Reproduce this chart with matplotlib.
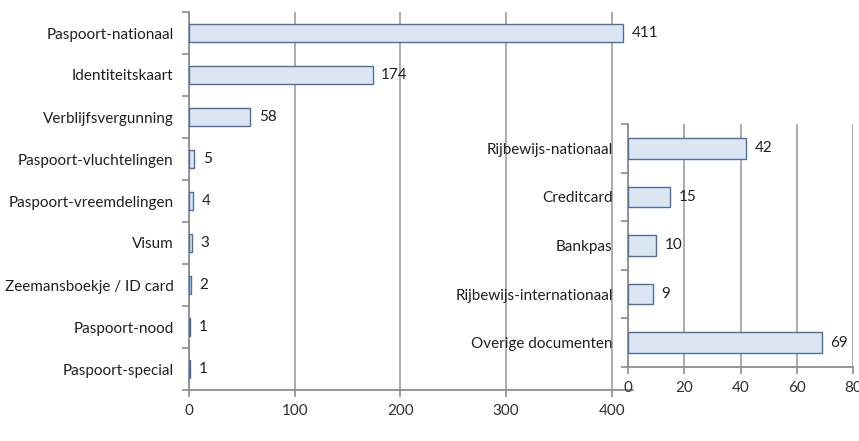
import matplotlib
matplotlib.use("Agg")
import matplotlib.pyplot as plt

main_cats = ["Paspoort-nationaal", "Identiteitskaart", "Verblijfsvergunning",
             "Paspoort-vluchtelingen", "Paspoort-vreemdelingen", "Visum",
             "Zeemansboekje / ID card", "Paspoort-nood", "Paspoort-special"]
main_vals = [411, 174, 58, 5, 4, 3, 2, 1, 1]
main_ticks = [0, 100, 200, 300, 400]

inset_cats = ["Rijbewijs-nationaal", "Creditcard", "Bankpas",
              "Rijbewijs-internationaal", "Overige documenten"]
inset_vals = [42, 15, 10, 9, 69]
inset_ticks = [0, 20, 40, 60, 80]

plt.rcParams['font.family'] = ['Lato', 'DejaVu Sans']
FS = 11
FILL = "#dce6f2"
EDGE = "#4a6fa0"
GRID = "#a6a6a6"
SPINE = "#8c8c8c"

fig = plt.figure(figsize=(8.59, 4.41), dpi=100)

def style(ax, cats, vals, ticks, xmax, height):
    n = len(cats)
    y = list(range(n))
    ax.barh(y, vals, height=height, color=FILL, edgecolor=EDGE, linewidth=1.0, zorder=3)
    ax.set_ylim(n - 0.5, -0.5)
    ax.set_xlim(0, xmax)
    ax.set_xticks(ticks)
    ax.set_xticklabels([str(t) for t in ticks], fontsize=FS, color="#303030")
    ax.set_yticks(y)
    ax.set_yticklabels(cats, fontsize=FS, color="#202020")
    ax.set_yticks([i - 0.5 for i in range(n + 1)], minor=True)
    ax.tick_params(axis='y', which='major', length=0, pad=11)
    ax.tick_params(axis='y', which='minor', length=5, color=SPINE, width=1.2)
    ax.tick_params(axis='x', length=5, color=SPINE, width=1.2, pad=5)
    ax.xaxis.grid(True, color=GRID, linewidth=1.3, zorder=0)
    ax.set_axisbelow(True)
    for s in ['top', 'right']:
        ax.spines[s].set_visible(False)
    for s in ['left', 'bottom']:
        ax.spines[s].set_color(SPINE)
        ax.spines[s].set_linewidth(1.3)
    for yi, v in zip(y, vals):
        ax.annotate(str(v), (v, yi), xytext=(6, 0), textcoords='offset points',
                    va='center', ha='left', fontsize=FS, color="#202020", zorder=5)

ax1 = fig.add_axes([189/859, 1 - 390/441, (633 - 189)/859, (390 - 12)/441])
style(ax1, main_cats, main_vals, main_ticks, 420, 0.43)

ax2 = fig.add_axes([628/859, 1 - 367/441, (853 - 628)/859, (367 - 124)/441])
ax2.set_facecolor("none")
style(ax2, inset_cats, inset_vals, inset_ticks, 80, 0.42)
ax2.set_zorder(5)

fig.savefig("out.png", dpi=100)
